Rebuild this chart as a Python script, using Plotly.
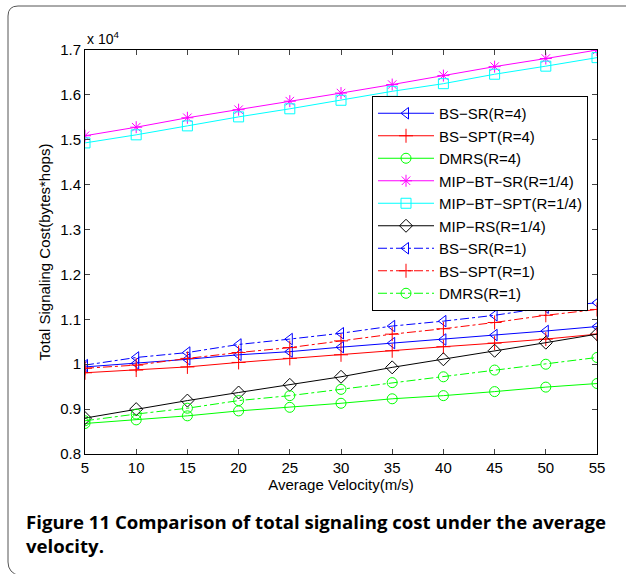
import plotly.graph_objects as go

velocity = [5, 10, 15, 20, 25, 30, 35, 40, 45, 50, 55]

bs_sr_r4 = [9940, 10020, 10110, 10210, 10280, 10380, 10470, 10550, 10650, 10740, 10840]
bs_spt_r4 = [9810, 9870, 9940, 10040, 10130, 10210, 10300, 10390, 10470, 10560, 10670]
dmrs_r4 = [8680, 8760, 8850, 8960, 9040, 9130, 9230, 9300, 9390, 9490, 9570]
mip_bt_sr = [15090, 15280, 15490, 15670, 15860, 16040, 16230, 16430, 16630, 16810, 17000]
mip_bt_spt = [14930, 15110, 15310, 15510, 15690, 15880, 16080, 16250, 16460, 16640, 16830]
mip_rs = [8800, 9000, 9190, 9370, 9540, 9720, 9930, 10110, 10300, 10480, 10670]
bs_sr_r1 = [9980, 10150, 10260, 10440, 10560, 10690, 10850, 10960, 11090, 11260, 11370]
bs_spt_r1 = [9910, 9980, 10130, 10260, 10370, 10520, 10670, 10790, 10930, 11090, 11220]
dmrs_r1 = [8740, 8890, 9020, 9190, 9300, 9440, 9590, 9720, 9870, 10000, 10150]

y_tick_vals = [8000, 9000, 10000, 11000, 12000, 13000, 14000, 15000, 16000, 17000]
y_tick_text = ["0.8", "0.9", "1", "1.1", "1.2", "1.3", "1.4", "1.5", "1.6", "1.7"]
x_tick_vals = [5, 10, 15, 20, 25, 30, 35, 40, 45, 50, 55]

series_names = [
    "BS\u2212SR(R=4)", "BS\u2212SPT(R=4)", "DMRS(R=4)",
    "MIP\u2212BT\u2212SR(R=1/4)", "MIP\u2212BT\u2212SPT(R=1/4)", "MIP\u2212RS(R=1/4)",
    "BS\u2212SR(R=1)", "BS\u2212SPT(R=1)", "DMRS(R=1)",
]
series_values = [bs_sr_r4, bs_spt_r4, dmrs_r4, mip_bt_sr, mip_bt_spt, mip_rs,
                 bs_sr_r1, bs_spt_r1, dmrs_r1]
styles = [
    ("#0000ff", "triangle-left-open", "solid"),
    ("#ff0000", "cross-thin-open", "solid"),
    ("#00ff00", "circle-open", "solid"),
    ("#ff00ff", "asterisk-open", "solid"),
    ("#00ffff", "square-open", "solid"),
    ("#000000", "diamond-open", "solid"),
    ("#0000ff", "triangle-left-open", "dashdot"),
    ("#ff0000", "cross-thin-open", "dashdot"),
    ("#00ff00", "circle-open", "dashdot"),
]

FONT = "Liberation Sans, Arial, sans-serif"

fig = go.Figure()
for name, vals, (color, sym, dash) in zip(series_names, series_values, styles):
    fig.add_trace(go.Scatter(
        x=velocity, y=vals, name=name, mode="lines+markers",
        line=dict(color=color, width=1, dash=dash),
        marker=dict(symbol=sym, size=10, color=color, line=dict(color=color, width=1)),
    ))

W, H = 626, 574
L, R, T, B = 85, 29, 50, 120
pw, ph = W - L - R, H - T - B


def px(x):
    return (x - L) / pw


def py(y):
    return (H - B - y) / ph


border = (f"M {px(660)},{py(6)} L {px(18)},{py(6)} Q {px(8)},{py(6)} {px(8)},{py(16)} "
          f"L {px(8)},{py(562)} Q {px(8)},{py(573)} {px(20)},{py(576)}")

fig.update_layout(
    width=W, height=H,
    margin=dict(l=L, r=R, t=T, b=B),
    paper_bgcolor="white", plot_bgcolor="white",
    font=dict(family=FONT, size=15, color="black"),
    showlegend=True,
    legend=dict(
        x=px(372), y=py(96), xanchor="left", yanchor="top",
        bordercolor="black", borderwidth=1, bgcolor="white",
        font=dict(family=FONT, size=15), itemwidth=56,
    ),
    xaxis=dict(
        range=[5, 55], tickvals=x_tick_vals, ticks="inside", ticklen=5,
        showline=True, linecolor="black", linewidth=1, mirror="ticks",
        showgrid=False, zeroline=False, tickfont=dict(size=15),
        title=dict(text="Average Velocity(m/s)", font=dict(size=15), standoff=3),
    ),
    yaxis=dict(
        range=[8000, 17000], tickvals=y_tick_vals, ticktext=y_tick_text,
        ticks="inside", ticklen=5,
        showline=True, linecolor="black", linewidth=1, mirror="ticks",
        showgrid=False, zeroline=False, tickfont=dict(size=15),
        title=dict(text="Total Signaling Cost(bytes*hops)", font=dict(size=15), standoff=5),
    ),
    shapes=[dict(type="path", xref="paper", yref="paper", path=border,
                 line=dict(color="#555555", width=1))],
    annotations=[
        dict(text="x 10<sup>4</sup>", xref="paper", yref="paper", x=0, y=py(49),
             xanchor="left", yanchor="bottom", showarrow=False, font=dict(size=14)),
        dict(text="<b>Figure 11</b> <b>Comparison of total signaling cost under the average<br>velocity.</b>",
             xref="paper", yref="paper", x=px(24), y=py(507), xanchor="left", yanchor="top",
             align="left", showarrow=False,
             font=dict(family="Open Sans, sans-serif", size=18.6, color="black")),
    ],
)

fig.write_html("out.html", config={"displayModeBar": False},
               post_script="document.body.style.margin='0';")
